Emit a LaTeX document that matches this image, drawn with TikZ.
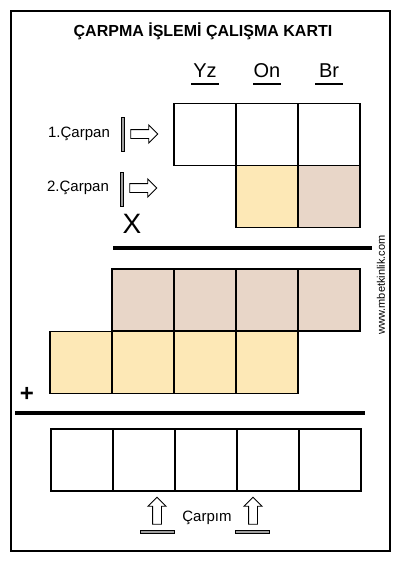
\documentclass[tikz,border=0pt]{standalone}
\usepackage{fontspec}
\setmainfont{Liberation Sans}
\usetikzlibrary{shapes.arrows}
\definecolor{sari}{HTML}{FDE8B6}
\definecolor{bej}{HTML}{E8D6C8}
\begin{document}
\begin{tikzpicture}[x=1pt, y=-1pt,
    kutu/.style = {draw, line width=1.2pt, minimum size=62pt, inner sep=0pt},
    ok/.style = {draw, line width=0.9pt, single arrow, minimum height=27pt, inner sep=4pt, single arrow head extend=4.5pt},
    cubuk/.style = {draw, fill=gray!75, line width=0.6pt, inner sep=0pt},
    yazi/.style = {font=\fontsize{15}{17}\selectfont}]

    \useasboundingbox (0, 0) rectangle (400, 566);
    \draw [line width=2pt] (11, 11) rectangle (390, 551);

    \node (baslik) at (203, 31) {\bfseries\fontsize{16}{18}\selectfont ÇARPMA İŞLEMİ ÇALIŞMA KARTI};

    \node (yz) at (205, 71) {\fontsize{20}{24}\selectfont Yz};
    \node (on) at (267, 71) {\fontsize{20}{24}\selectfont On};
    \node (br) at (329, 71) {\fontsize{20}{24}\selectfont Br};
    \draw [line width=2.5pt] (191, 84) -- (219, 84);
    \draw [line width=2.5pt] (253, 84) -- (281, 84);
    \draw [line width=2.5pt] (315, 84) -- (343, 84);

    \node[kutu] (c1) at (205, 134.5) {};
    \node[kutu] (c2) at (267, 134.5) {};
    \node[kutu] (c3) at (329, 134.5) {};

    \node[kutu, fill=sari] (d2) at (267, 196.5) {};
    \node[kutu, fill=bej] (d3) at (329, 196.5) {};

    \node[yazi] (car1) at (79, 134) {1.Çarpan};
    \node[cubuk, minimum width=3pt, minimum height=34pt] (bar1) at (123, 134) {};
    \node[ok] (ok1) at (142, 134) {};

    \node[yazi] (car2) at (78, 188) {2.Çarpan};
    \node[cubuk, minimum width=3pt, minimum height=34pt] (bar2) at (122, 189) {};
    \node[ok] (ok2) at (141, 188) {};

    \node (carpi) at (132, 224) {\fontsize{28}{30}\selectfont X};
    \draw [line width=3.5pt] (113, 248) -- (372, 248);

    \node[rotate=90] (site) at (381, 285) {\fontsize{11}{12}\selectfont www.mbetkinlik.com};

    \node[kutu, fill=bej] (e1) at (143, 300) {};
    \node[kutu, fill=bej] (e2) at (205, 300) {};
    \node[kutu, fill=bej] (e3) at (267, 300) {};
    \node[kutu, fill=bej] (e4) at (329, 300) {};

    \node[kutu, fill=sari] (f1) at (81, 362.5) {};
    \node[kutu, fill=sari] (f2) at (143, 362.5) {};
    \node[kutu, fill=sari] (f3) at (205, 362.5) {};
    \node[kutu, fill=sari] (f4) at (267, 362.5) {};

    \node (arti) at (27, 394) {\bfseries\fontsize{24}{26}\selectfont +};
    \draw [line width=3.5pt] (15, 413) -- (365, 413);

    \node[kutu] (g1) at (82, 460) {};
    \node[kutu] (g2) at (144, 460) {};
    \node[kutu] (g3) at (206, 460) {};
    \node[kutu] (g4) at (268, 460) {};
    \node[kutu] (g5) at (330, 460) {};

    \node[ok, shape border rotate=90] (ok3) at (157, 513) {};
    \node[ok, shape border rotate=90] (ok4) at (253, 513) {};
    \node[cubuk, minimum width=34pt, minimum height=3pt] (bar3) at (157, 532) {};
    \node[cubuk, minimum width=34pt, minimum height=3pt] (bar4) at (252, 532) {};
    \node[yazi] (sonuc) at (207, 518) {Çarpım};

\end{tikzpicture}
\end{document}
